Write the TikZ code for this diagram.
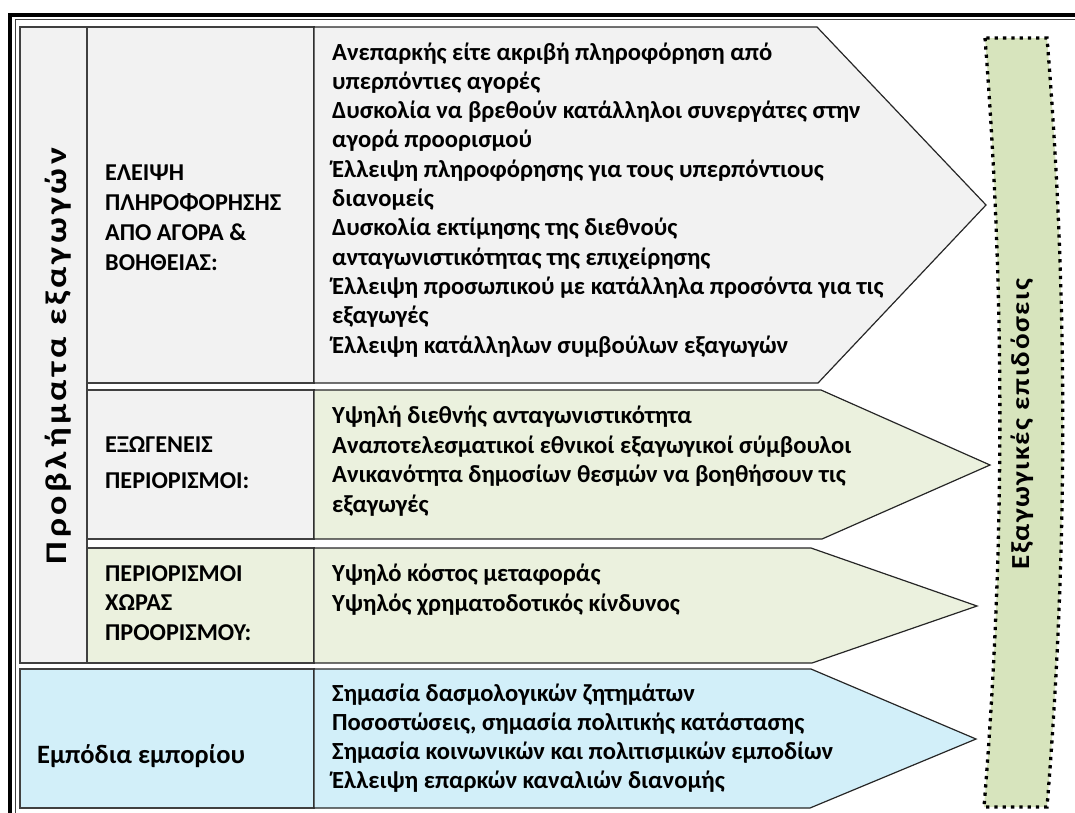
\documentclass[tikz,border=0pt]{standalone}
\usepackage{fontspec}
\setmainfont{Carlito}
\newfontfamily\sidefontA[LetterSpace=12,FakeStretch=1.2]{Carlito}
\newfontfamily\sidefontB[LetterSpace=6,FakeStretch=1.12]{Carlito}
\definecolor{cgray}{RGB}{242,242,242}
\definecolor{cgreen}{RGB}{235,241,222}
\definecolor{cblue}{RGB}{210,239,249}
\definecolor{colive}{RGB}{215,228,189}
\definecolor{cline}{RGB}{64,64,64}
\tikzset{
  cell/.style={draw=cline, line width=1.3pt},
  arrowbox/.style={draw=black!85, line width=1.2pt, line join=miter},
  bodytext/.style={anchor=base west, align=left, inner sep=0pt, font=\bfseries\fontsize{24.6}{29.3}\selectfont},
  labeltext/.style={anchor=base west, align=left, inner sep=0pt, font=\bfseries\fontsize{24.2}{29.7}\selectfont},
  sidetext/.style={anchor=base, inner sep=0pt, rotate=90},
  dottedbox/.style={draw=black, fill=colive, line width=3.3pt, dash pattern=on 3.3pt off 5pt}
}
\begin{document}
\begin{tikzpicture}[x=1pt,y=-1pt]
\useasboundingbox (0,0) rectangle (1075,812);
% outer frame (cut off at right and bottom)
\begin{scope}
\clip (0,0) rectangle (1075,812);
\draw[line width=4pt] (10.3,900) -- (10.3,14.7) -- (1100,14.7);
\draw[line width=1.3pt, draw=black!75] (15.2,900) -- (15.2,19.2) -- (1100,19.2);
\end{scope}
% left column
\path[cell, fill=cgray] (20,27) rectangle (87,663);
% row 1
\path[cell, fill=cgray] (87,27) rectangle (314,383);
\path[arrowbox, fill=cgray] (314,27) -- (817,27) -- (986,205) -- (818,383) -- (314,383) -- cycle;
% row 2
\path[cell, fill=cgray] (87,390) rectangle (314,539);
\path[arrowbox, fill=cgreen] (314,390) -- (821,390) -- (990,465) -- (822,539) -- (314,539) -- cycle;
% row 3
\path[cell, fill=cgreen] (87,548) rectangle (314,663);
\path[arrowbox, fill=cgreen] (314,548) -- (811,548) -- (977,606) -- (812,663) -- (314,663) -- cycle;
% row 4
\path[cell, fill=cblue] (20,669) rectangle (314,808);
\path[arrowbox, fill=cblue] (314,669) -- (811,669) -- (976,739) -- (810,808) -- (314,808) -- cycle;
% dotted performance bar
\path[dottedbox] (985,38) .. controls (1005,294) and (1005,550) .. (984,807) -- (1047,807) .. controls (1068,550) and (1068,294) .. (1047,38) -- cycle;

% texts
\node[sidetext, font=\sidefontA\bfseries\fontsize{30}{32}\selectfont] (problems) at (66,356) {Προβλήματα εξαγωγών};
\node[sidetext, font=\sidefontB\bfseries\fontsize{26}{30}\selectfont] (perf) at (1029,424) {Εξαγωγικές επιδόσεις};

\node[labeltext] (lab1) at (105,270) {ΕΛΕΙΨΗ\\ΠΛΗΡΟΦΟΡΗΣΗΣ\\ΑΠΟ ΑΓΟΡΑ \&\\ΒΟΗΘΕΙΑΣ:};
\node[bodytext] (body1) at (332,353) {Ανεπαρκής είτε ακριβή πληροφόρηση από\\
υπερπόντιες αγορές\\
Δυσκολία να βρεθούν κατάλληλοι συνεργάτες στην\\
αγορά προορισμού\\
Έλλειψη πληροφόρησης για τους υπερπόντιους\\
διανομείς\\
Δυσκολία εκτίμησης της διεθνούς\\
ανταγωνιστικότητας της επιχείρησης\\
Έλλειψη προσωπικού με κατάλληλα προσόντα για τις\\
εξαγωγές\\
Έλλειψη κατάλληλων συμβούλων εξαγωγών};

\node[labeltext, font=\bfseries\fontsize{24.2}{36}\selectfont] (lab2) at (105,488) {ΕΞΩΓΕΝΕΙΣ\\ΠΕΡΙΟΡΙΣΜΟΙ:};
\node[bodytext, font=\bfseries\fontsize{24.6}{29.5}\selectfont] (body2) at (332,512) {Υψηλή διεθνής ανταγωνιστικότητα\\
Αναποτελεσματικοί εθνικοί εξαγωγικοί σύμβουλοι\\
Ανικανότητα δημοσίων θεσμών να βοηθήσουν τις\\
εξαγωγές};

\node[labeltext, font=\bfseries\fontsize{24.2}{29.5}\selectfont] (lab3) at (105,640) {ΠΕΡΙΟΡΙΣΜΟΙ\\ΧΩΡΑΣ\\ΠΡΟΟΡΙΣΜΟΥ:};
\node[bodytext, font=\bfseries\fontsize{24.6}{30}\selectfont] (body3) at (332,611) {Υψηλό κόστος μεταφοράς\\
Υψηλός χρηματοδοτικός κίνδυνος};

\node[labeltext, font=\bfseries\fontsize{26.5}{30}\selectfont] (lab4) at (37,763) {Εμπόδια εμπορίου};
\node[bodytext, font=\bfseries\fontsize{24.6}{28.7}\selectfont] (body4) at (332,788) {Σημασία δασμολογικών ζητημάτων\\
Ποσοστώσεις, σημασία πολιτικής κατάστασης\\
Σημασία κοινωνικών και πολιτισμικών εμποδίων\\
Έλλειψη επαρκών καναλιών διανομής};
\end{tikzpicture}
\end{document}
